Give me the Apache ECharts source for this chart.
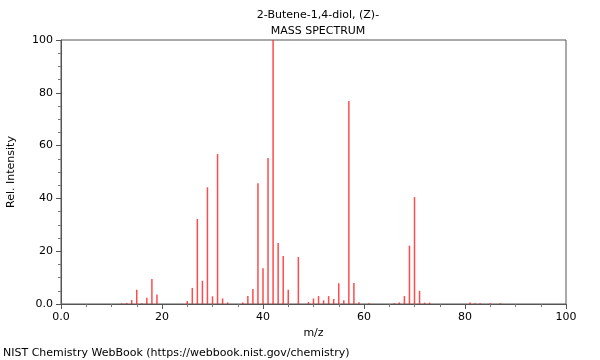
<!DOCTYPE html>
<html lang="en">
<head>
    <meta charset="UTF-8">
    <title>2-Butene-1,4-diol, (Z)- mass spectrum</title>
    <script src="https://cdn.jsdelivr.net/npm/echarts@6.0.0/dist/echarts.min.js"></script>
    <style type="text/css">
        html, body { margin: 0; padding: 0; background: #fff; }
        #chart { width: 600px; height: 360px; }
    </style>
</head>
<body>
<div id="chart"></div>
<script>
    // m/z values and relative intensities
    var mz = [12, 13, 14, 15, 16, 17, 18, 19, 25, 26, 27, 28, 29, 30, 31, 32, 33,
              36, 37, 38, 39, 40, 41, 42, 43, 44, 45, 47, 49, 50, 51, 52, 53, 54,
              55, 56, 57, 58, 59, 61, 66, 67, 68, 69, 70, 71, 72, 73, 81, 82, 83, 85, 87];
    var intensity = [0.2, 0.4, 1.5, 5.4, 0.3, 2.4, 9.5, 3.6, 1.1, 6.1, 32.2, 8.8, 44.2, 2.9, 56.8, 2.1, 0.6,
                     0.6, 3.0, 5.7, 45.7, 13.5, 55.3, 100, 23.1, 18.2, 5.4, 17.8, 0.75, 2.1, 3.0, 1.4, 3.0, 1.9,
                     7.9, 1.4, 76.9, 8.0, 0.7, 0.3, 0.3, 0.6, 3.0, 22.1, 40.5, 5.0, 0.5, 0.5, 0.6, 0.3, 0.3, 0.3, 0.3];
    var xTicks = [0, 20, 40, 60, 80, 100];
    var yTicks = [0, 20, 40, 60, 80, 100];

    var peaks = mz.map(function (m, i) { return [m, intensity[i]]; });

    function tickLabel(v) { return v === 0 ? '0.0' : String(v); }

    var chart = echarts.init(document.getElementById('chart'));
    var font = 'DejaVu Sans';

    var option = {
        animation: false,
        textStyle: { fontFamily: font },
        title: [
            {
                text: '2-Butene-1,4-diol, (Z)-',
                left: 313, top: 5, textAlign: 'center',
                textStyle: { fontFamily: font, fontSize: 11, fontWeight: 'normal', color: '#000' }
            },
            {
                text: 'MASS SPECTRUM',
                left: 313, top: 21, textAlign: 'center',
                textStyle: { fontFamily: font, fontSize: 11, fontWeight: 'normal', color: '#000' }
            }
        ],
        graphic: [{
            type: 'text', left: 3, top: 348,
            style: { text: 'NIST Chemistry WebBook (https://webbook.nist.gov/chemistry)',
                     font: '11px DejaVu Sans', fill: '#000' }
        }],
        grid: {
            left: 61, right: 34, top: 40, bottom: 56,
            outerBoundsMode: 'none',
            show: true, borderColor: '#555', borderWidth: 1, backgroundColor: 'transparent'
        },
        xAxis: {
            type: 'value', min: 0, max: 100, interval: 20,
            name: 'm/z', nameLocation: 'middle', nameGap: 24,
            nameTextStyle: { fontFamily: font, fontSize: 11, color: '#000' },
            axisLine: { show: true, lineStyle: { color: '#555' } },
            axisTick: { show: true, length: 5, lineStyle: { color: '#555' } },
            minorTick: { show: true, splitNumber: 4, length: 3, lineStyle: { color: '#777' } },
            splitLine: { show: false },
            axisLabel: { fontFamily: font, fontSize: 11, color: '#000', margin: 8,
                         formatter: function (v) { return xTicks.indexOf(v) >= 0 ? tickLabel(v) : ''; } }
        },
        yAxis: {
            type: 'value', min: 0, max: 100, interval: 20,
            name: 'Rel. Intensity', nameLocation: 'middle', nameGap: 44,
            nameTextStyle: { fontFamily: font, fontSize: 11, color: '#000' },
            axisLine: { show: true, lineStyle: { color: '#555' } },
            axisTick: { show: true, length: 5, lineStyle: { color: '#555' } },
            minorTick: { show: true, splitNumber: 4, length: 3, lineStyle: { color: '#777' } },
            splitLine: { show: false },
            axisLabel: { fontFamily: font, fontSize: 11, color: '#000', margin: 8,
                         formatter: function (v) { return yTicks.indexOf(v) >= 0 ? tickLabel(v) : ''; } }
        },
        series: [{
            type: 'bar',
            data: peaks,
            barWidth: 1.5,
            itemStyle: { color: 'rgba(255, 30, 30, 0.8)' },
            silent: true
        }]
    };

    chart.setOption(option);
</script>
</body>
</html>
